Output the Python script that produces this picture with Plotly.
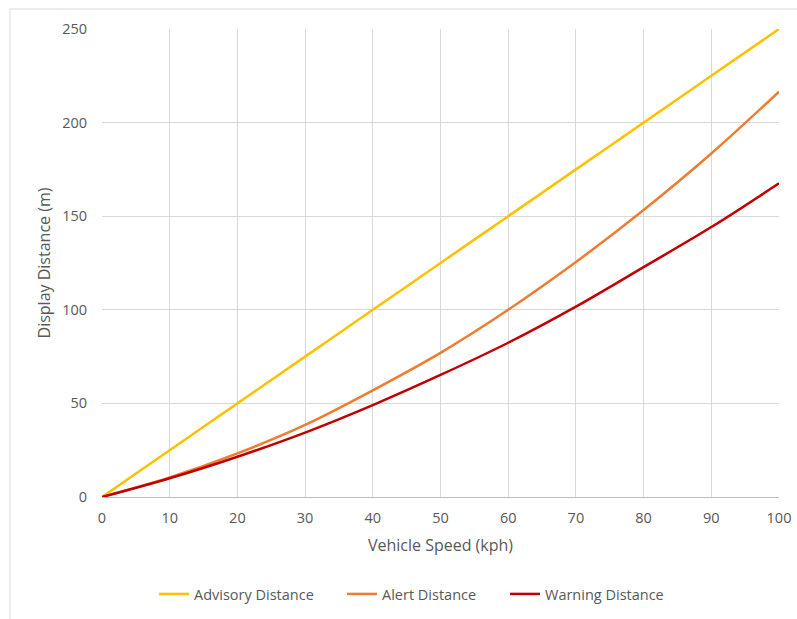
import plotly.graph_objects as go

speed = [0, 10, 20, 30, 40, 50, 60, 70, 80, 90, 100]
advisory = [0, 25, 50, 75, 100, 125, 150, 175, 200, 225, 250]
alert = [0, 10.5, 23.3, 38.5, 57, 77, 100, 125.5, 153.3, 183.5, 216.5]
warning = [0, 10, 21.5, 34.4, 49.1, 65.2, 82.4, 101.7, 122.8, 144.2, 167.6]

x_ticks = [0, 10, 20, 30, 40, 50, 60, 70, 80, 90, 100]
y_ticks = [0, 50, 100, 150, 200, 250]

font_fam = "Open Sans, Liberation Sans, sans-serif"
grey = "#595959"

# plot area in figure pixels
L, T, W, H = 102, 29, 677, 468
FW, FH = 797, 619

def px(xp):
    return (xp - L) / W

def py(yp):
    return (T + H - yp) / H

series = [("Advisory Distance", advisory, "#FFC000", "legend", 159),
          ("Alert Distance", alert, "#ED7D31", "legend2", 347),
          ("Warning Distance", warning, "#C00000", "legend3", 510)]

fig = go.Figure()
for name, vals, col, lg, _ in series:
    fig.add_trace(go.Scatter(x=speed, y=vals, name=name, mode="lines", legend=lg,
                             line=dict(color=col, width=2.5, shape="spline", smoothing=1)))

legend_common = dict(orientation="h", xanchor="left", yanchor="middle",
                     font=dict(size=14.5, color=grey), bgcolor="rgba(0,0,0,0)",
                     itemwidth=30, borderwidth=0)
leg = {}
for name, vals, col, lg, lx in series:
    leg[lg] = dict(legend_common, x=px(lx - 5), y=py(594))

fig.update_layout(
    width=FW, height=FH,
    margin=dict(l=L, r=FW - L - W, t=T, b=FH - T - H, autoexpand=False),
    paper_bgcolor="white", plot_bgcolor="white",
    font=dict(family=font_fam, size=14, color=grey),
    showlegend=True,
    xaxis=dict(range=[0, 100], tickvals=x_ticks, showgrid=True, gridcolor="#d9d9d9",
               gridwidth=1, zeroline=False, showline=True, linecolor="#bfbfbf",
               ticks="", ticklabelstandoff=8, tickfont=dict(size=14.5, color=grey),
               automargin=False,
               title=dict(text="Vehicle Speed (kph)", font=dict(size=16, color=grey), standoff=13),
               mirror=False),
    yaxis=dict(range=[0, 250], tickvals=y_ticks, showgrid=True, gridcolor="#d9d9d9",
               gridwidth=1, zeroline=False, showline=False, ticks="", automargin=False,
               ticklabelstandoff=14, tickfont=dict(size=14.5, color=grey),
               title=dict(text="Display Distance (m)", font=dict(size=16, color=grey), standoff=7)),
    shapes=[dict(type="rect", xref="paper", yref="paper",
                 x0=px(10), x1=px(830), y0=py(650), y1=py(9),
                 line=dict(color="#d9d9d9", width=1), layer="below")],
    **leg,
)

fig.write_html("out.html", config={"displayModeBar": False},
               post_script="document.body.style.margin='0';")
